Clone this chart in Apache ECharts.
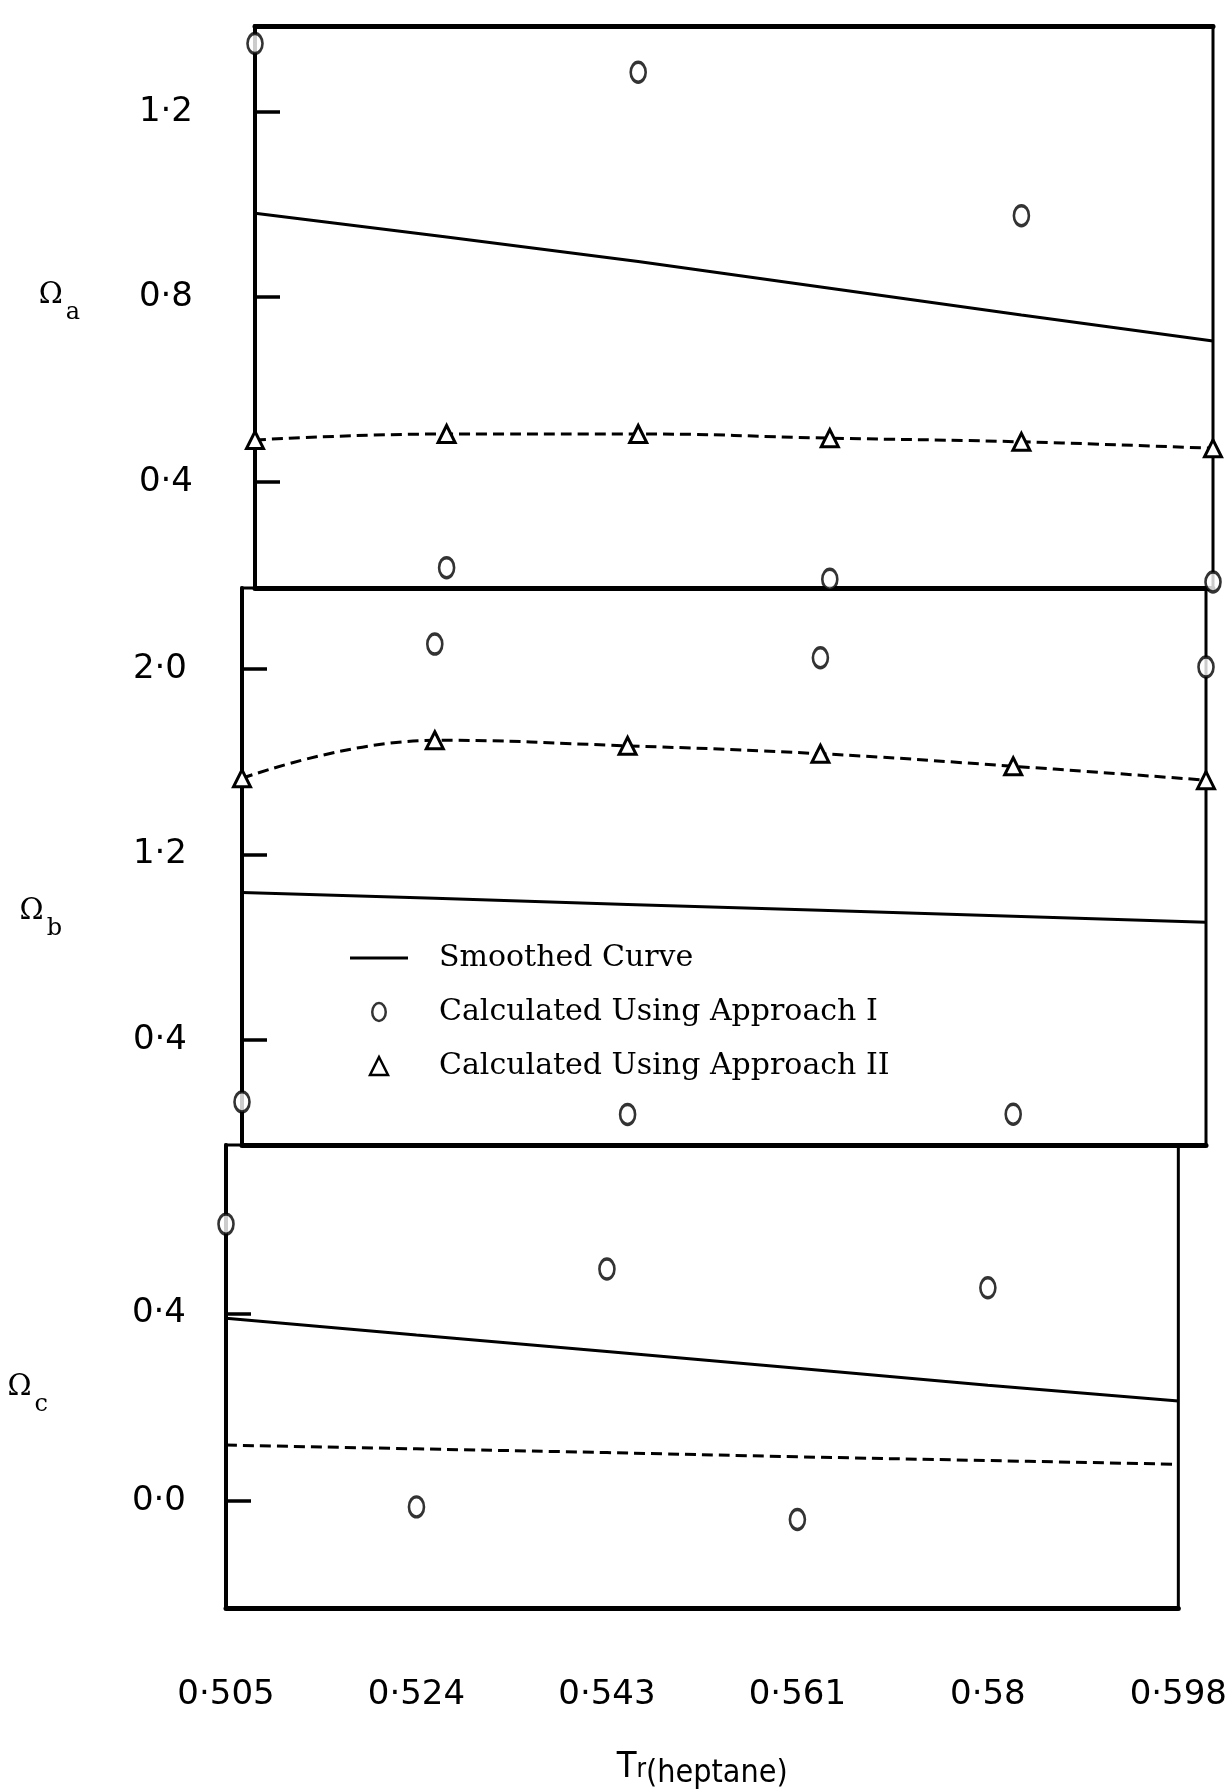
<!DOCTYPE html>
<html><head><meta charset="utf-8">
<script src="https://cdn.jsdelivr.net/npm/echarts@6/dist/echarts.min.js"></script>
<style>html,body{margin:0;padding:0;background:#fff}#c{width:1230px;height:1791px}</style>
</head><body><div id="c"></div>
<script>
// ---- data ----
const categories = ['0·505', '0·524', '0·543', '0·561', '0·58', '0·598'];

// Panel Ω_a
const aSmoothed   = [0.981, 0.930, 0.877, 0.819, 0.761, 0.705];
const aApproachI  = [1.348, 0.215, 1.286, 0.190, 0.976, 0.184];
const aApproachII = [0.491, 0.504, 0.504, 0.495, 0.487, 0.473];
// Panel Ω_b
const bSmoothed   = [1.036, 1.011, 0.985, 0.960, 0.934, 0.908];
const bApproachI  = [0.133, 2.108, 0.079, 2.049, 0.080, 2.009];
const bApproachII = [1.529, 1.693, 1.669, 1.635, 1.581, 1.521];
// Panel Ω_c
const cSmoothed   = [0.390, 0.354, 0.319, 0.283, 0.247, 0.213];
const cApproachI  = [0.591, -0.013, 0.495, -0.040, 0.455, null];
const cApproachII = [0.119, 0.111, 0.103, 0.094, 0.086, 0.078];

// tick values and labels
const aTicks = [0.4, 0.8, 1.2];
const aTickLabels = ['0·4', '0·8', '1·2'];
const bTicks = [0.4, 1.2, 2.0];
const bTickLabels = ['0·4', '1·2', '2·0'];
const cTicks = [0.0, 0.4];
const cTickLabels = ['0·0', '0·4'];

const names = ['Smoothed Curve', 'Calculated Using Approach I', 'Calculated Using Approach II'];

// ---- chart ----
const INK = '#000';
const chart = echarts.init(document.getElementById('c'), null, {renderer: 'canvas'});

function labelFor(ticks, labels) {
  return function (v) {
    for (let i = 0; i < ticks.length; i++) if (Math.abs(ticks[i] - v) < 1e-6) return labels[i];
    return '';
  };
}
const omegaRich = {
  o: {fontFamily: 'DejaVu Serif', fontSize: 29, color: INK, lineHeight: 44, verticalAlign: 'top'},
  s: {fontFamily: 'DejaVu Serif', fontSize: 24, color: INK, lineHeight: 44, verticalAlign: 'bottom', padding: [0, 0, 0, 3]}
};
function yAxisFor(grid, min, max, ticks, labels, sub, gap, pad, margin) {
  return {
    gridIndex: grid, type: 'value', min: min, max: max,
    splitLine: {show: false},
    axisLine: {show: true, lineStyle: {color: INK, width: 4}},
    axisTick: {show: true, inside: true, length: 25, customValues: ticks, lineStyle: {color: INK, width: 3.5}},
    axisLabel: {show: true, customValues: ticks, formatter: labelFor(ticks, labels), margin: margin,
      fontFamily: 'DejaVu Sans', fontSize: 34, color: INK},
    name: '{o|Ω}{s|' + sub + '}', nameLocation: 'middle', nameRotate: 0, nameGap: gap,
    nameTextStyle: {rich: omegaRich, padding: pad}
  };
}
function xAxisFor(grid, pos, showLabel) {
  const ax = {
    gridIndex: grid, type: 'category', data: categories, boundaryGap: false, position: pos,
    axisLine: {show: true, onZero: false, lineStyle: {color: INK, width: 5}},
    axisTick: {show: false},
    splitLine: {show: false},
    axisLabel: {show: showLabel, margin: 70, fontFamily: 'DejaVu Sans', fontSize: 34, color: INK}
  };
  if (showLabel) {
    ax.name = '{t|T}{r|r}{h|(heptane)}';
    ax.nameLocation = 'middle';
    ax.nameGap = 142;
    ax.nameTextStyle = {rich: {
      t: {fontFamily: 'DejaVu Sans Condensed', fontSize: 36, color: INK, lineHeight: 40, verticalAlign: 'top'},
      r: {fontFamily: 'DejaVu Sans Condensed', fontSize: 26, color: INK, lineHeight: 40, verticalAlign: 'middle'},
      h: {fontFamily: 'DejaVu Sans Condensed', fontSize: 32, color: INK, lineHeight: 40, verticalAlign: 'bottom'}
    }};
  }
  return ax;
}
const circleStyle = {color: '#fff', borderColor: INK, borderWidth: 3};
const triStyle = {color: '#fff', borderColor: INK, borderWidth: 3};
function panelSeries(xi, yi, sm, ap1, ap2, showTri) {
  return [
    {name: names[0], type: 'line', xAxisIndex: xi, yAxisIndex: yi, data: sm, symbol: 'none',
      lineStyle: {color: INK, width: 3}, itemStyle: {color: INK}, z: 3, silent: true},
    {name: names[2], type: 'line', xAxisIndex: xi, yAxisIndex: yi, data: ap2, smooth: 0.45,
      symbol: showTri ? 'triangle' : 'none', symbolSize: [17, 17], showSymbol: showTri,
      lineStyle: {color: INK, width: 3, type: [11, 6]}, itemStyle: triStyle, z: 4, silent: true},
    {name: names[1], type: 'scatter', xAxisIndex: xi, yAxisIndex: yi, data: ap1, symbol: 'circle',
      symbolSize: [15, 20], itemStyle: circleStyle, z: 5, silent: true, clip: false}
  ];
}

const option = {
  backgroundColor: '#fff',
  animation: false,
  grid: [
    {left: 255, right: 17, top: 26, height: 562, show: true, borderColor: INK, borderWidth: 3, backgroundColor: 'transparent'},
    {left: 242, right: 24, top: 588, height: 557, show: true, borderColor: INK, borderWidth: 3, backgroundColor: 'transparent'},
    {left: 226, right: 44, top: 1145, height: 466, show: true, borderColor: INK, borderWidth: 3, backgroundColor: 'transparent'}
  ],
  xAxis: [xAxisFor(0, 'bottom', false), xAxisFor(0, 'top', false), xAxisFor(1, 'bottom', false), xAxisFor(2, 'bottom', true)],
  yAxis: [
    yAxisFor(0, 0.171, 1.386, aTicks, aTickLabels, 'a', 175, [0, 0, 8, 0], 62),
    yAxisFor(1, -0.053, 2.35, bTicks, bTickLabels, 'b', 180, [105, 0, 0, 0], 55),
    yAxisFor(2, -0.229, 0.76, cTicks, cTickLabels, 'c', 178, [36, 0, 0, 0], 40)
  ],
  legend: {
    orient: 'vertical', left: 345, top: 938, itemWidth: 58, itemHeight: 18, itemGap: 24,
    selectedMode: false, symbolKeepAspect: true,
    itemStyle: {borderWidth: 2.5},
    textStyle: {fontFamily: 'DejaVu Serif', fontSize: 30, color: INK, padding: [0, 0, 0, 26]},
    data: [
      {name: names[0], icon: 'path://M0,0H58V3H0Z'},
      {name: names[1], icon: 'path://M0,10a7.5,10 0 1,0 15,0a7.5,10 0 1,0 -15,0Z'},
      {name: names[2], icon: 'path://M8,0L16,16L0,16Z'}
    ]
  },
  series: [].concat(
    panelSeries(0, 0, aSmoothed, aApproachI, aApproachII, true),
    panelSeries(2, 1, bSmoothed, bApproachI, bApproachII, true),
    panelSeries(3, 2, cSmoothed, cApproachI, cApproachII, false)
  )
};
chart.setOption(option);
</script></body></html>
